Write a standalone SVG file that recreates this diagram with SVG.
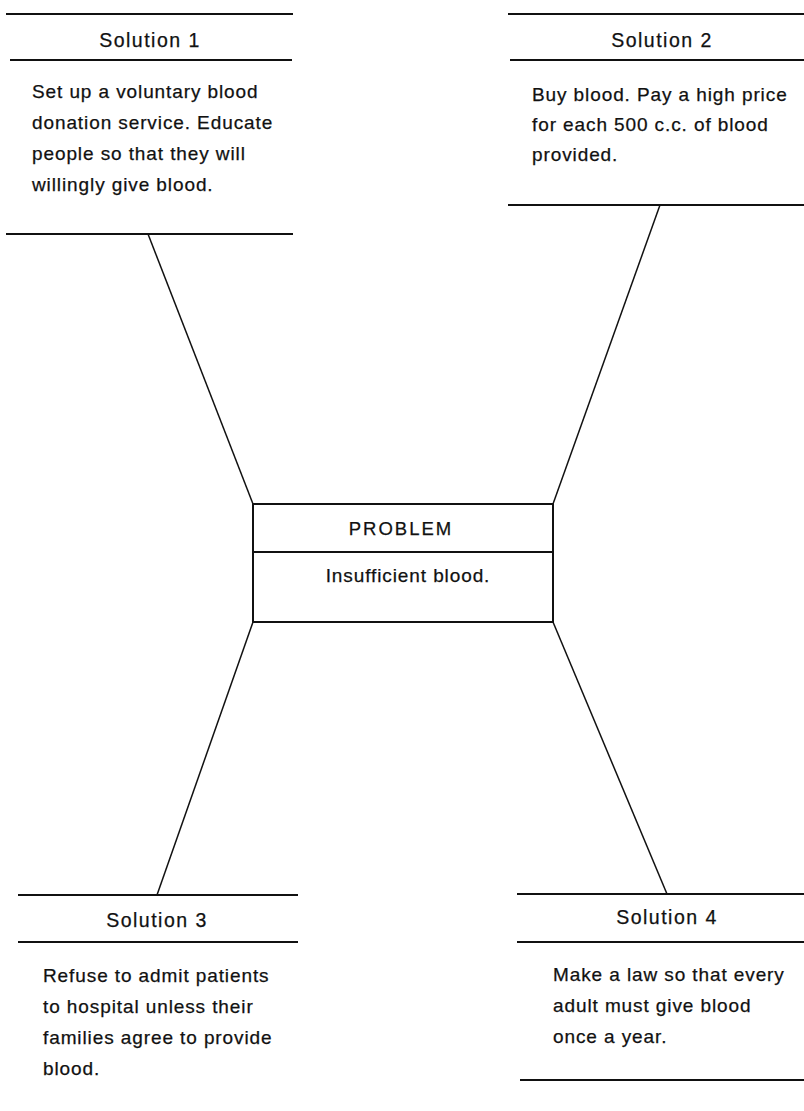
<svg xmlns="http://www.w3.org/2000/svg" width="804" height="1111" viewBox="0 0 804 1111">
<style>
.rule{stroke:#111;stroke-width:2;fill:none}
.box{stroke:#111;stroke-width:2;fill:#fff}
.conn{stroke:#111;stroke-width:1.5;fill:none}
.title{font-family:"Liberation Sans",Arial,sans-serif;font-size:19.5px;letter-spacing:1.5px;fill:#111;stroke:#111;stroke-width:0.25;text-anchor:middle}
.body{font-family:"Liberation Sans",Arial,sans-serif;font-size:19px;letter-spacing:0.9px;fill:#111;stroke:#111;stroke-width:0.25}
</style>
<rect width="804" height="1111" fill="#fff"/>
<g id="connectors">
<line class="conn" x1="148" y1="234" x2="253" y2="504"/>
<line class="conn" x1="660" y1="205" x2="553" y2="504"/>
<line class="conn" x1="253" y1="622" x2="157" y2="895"/>
<line class="conn" x1="553" y1="622" x2="667" y2="894"/>
</g>
<g id="solution1">
<line class="rule" x1="6" y1="14" x2="293" y2="14"/>
<text class="title" x="150" y="47">Solution 1</text>
<line class="rule" x1="10" y1="60" x2="292" y2="60"/>
<text class="body" x="32" y="98">Set up a voluntary blood</text>
<text class="body" x="32" y="129">donation service. Educate</text>
<text class="body" x="32" y="160">people so that they will</text>
<text class="body" x="32" y="191">willingly give blood.</text>
<line class="rule" x1="6" y1="234" x2="293" y2="234"/>
</g>
<g id="solution2">
<line class="rule" x1="508" y1="14" x2="804" y2="14"/>
<text class="title" x="662" y="47">Solution 2</text>
<line class="rule" x1="510" y1="60" x2="804" y2="60"/>
<text class="body" x="532" y="101">Buy blood. Pay a high price</text>
<text class="body" x="532" y="131">for each 500 c.c. of blood</text>
<text class="body" x="532" y="161">provided.</text>
<line class="rule" x1="508" y1="205" x2="804" y2="205"/>
</g>
<g id="problem">
<rect class="box" x="253" y="504" width="300" height="118"/>
<text class="title" x="401" y="535" style="font-size:18.5px;letter-spacing:2px">PROBLEM</text>
<line class="rule" x1="253" y1="552" x2="553" y2="552"/>
<text class="body" x="408" y="582" text-anchor="middle">Insufficient blood.</text>
</g>
<g id="solution3">
<line class="rule" x1="18" y1="895" x2="298" y2="895"/>
<text class="title" x="157" y="927">Solution 3</text>
<line class="rule" x1="18" y1="942" x2="298" y2="942"/>
<text class="body" x="43" y="982">Refuse to admit patients</text>
<text class="body" x="43" y="1013">to hospital unless their</text>
<text class="body" x="43" y="1044">families agree to provide</text>
<text class="body" x="43" y="1075">blood.</text>
</g>
<g id="solution4">
<line class="rule" x1="517" y1="894" x2="804" y2="894"/>
<text class="title" x="667" y="924">Solution 4</text>
<line class="rule" x1="517" y1="942" x2="804" y2="942"/>
<text class="body" x="553" y="981">Make a law so that every</text>
<text class="body" x="553" y="1012">adult must give blood</text>
<text class="body" x="553" y="1043">once a year.</text>
<line class="rule" x1="520" y1="1080" x2="804" y2="1080"/>
</g>
</svg>
